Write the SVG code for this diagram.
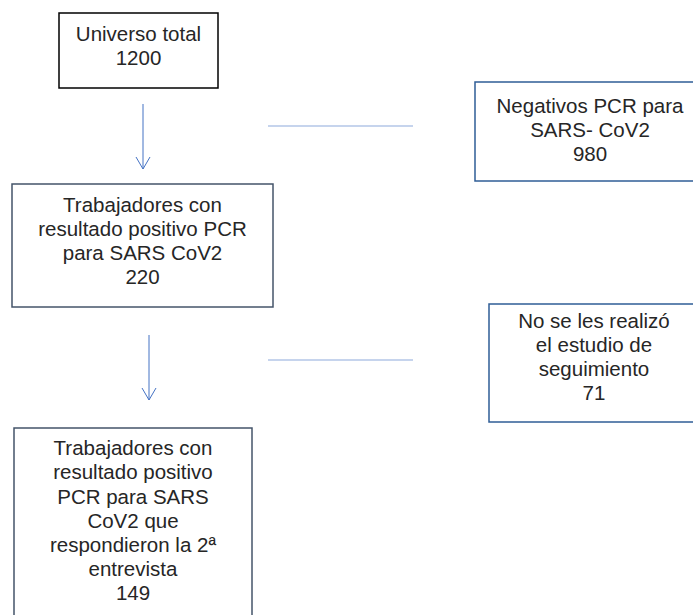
<svg xmlns="http://www.w3.org/2000/svg" width="693" height="615" viewBox="0 0 693 615">
<defs>
<marker id="ah" markerWidth="14" markerHeight="16" refX="13" refY="8" orient="auto" markerUnits="userSpaceOnUse" viewBox="0 0 14 16">
<path d="M1,1 L13,8 L1,15" fill="none" stroke="#4472C4" stroke-width="1"/>
</marker>
<style>
text{font-family:"Liberation Sans",Arial,sans-serif;font-size:20.5px;fill:#262626;text-anchor:middle}
.b{fill:#fff;stroke-width:1.5}
.k{stroke:#000}
.bl{stroke:#2F5D96}
.sl{stroke:#44546A}
.ar{stroke:#4472C4;stroke-width:1;fill:none}
.hl{stroke:#8EA9DB;stroke-width:1.2;fill:none}
</style>
</defs>
<g id="connectors">
<line class="ar" x1="143" y1="104" x2="143" y2="169" marker-end="url(#ah)"/>
<line class="hl" x1="268" y1="126" x2="413" y2="126"/>
<line class="ar" x1="149" y1="335" x2="149" y2="400" marker-end="url(#ah)"/>
<line class="hl" x1="268" y1="360" x2="413" y2="360"/>
</g>
<g id="n1">
<rect class="b k" x="59" y="13" width="159" height="75"/>
<text x="138.5" y="41">Universo total</text>
<text x="138.5" y="65">1200</text>
</g>
<g id="n2">
<rect class="b bl" x="475" y="82" width="230" height="99"/>
<text x="590" y="113">Negativos PCR para</text>
<text x="590" y="137">SARS- CoV2</text>
<text x="590" y="161">980</text>
</g>
<g id="n3">
<rect class="b sl" x="12" y="184" width="261" height="123"/>
<text x="142.5" y="212">Trabajadores con</text>
<text x="142.5" y="236">resultado positivo PCR</text>
<text x="142.5" y="260">para SARS CoV2</text>
<text x="142.5" y="284">220</text>
</g>
<g id="n4">
<rect class="b bl" x="489" y="304" width="210" height="118"/>
<text x="594" y="328">No se les realizó</text>
<text x="594" y="352">el estudio de</text>
<text x="594" y="376">seguimiento</text>
<text x="594" y="400">71</text>
</g>
<g id="n5">
<rect class="b sl" x="14" y="428" width="238" height="200"/>
<text x="133" y="455">Trabajadores con</text>
<text x="133" y="479">resultado positivo</text>
<text x="133" y="504">PCR para SARS</text>
<text x="133" y="528">CoV2 que</text>
<text x="133" y="552">respondieron la 2ª</text>
<text x="133" y="576">entrevista</text>
<text x="133" y="600">149</text>
</g>
</svg>
